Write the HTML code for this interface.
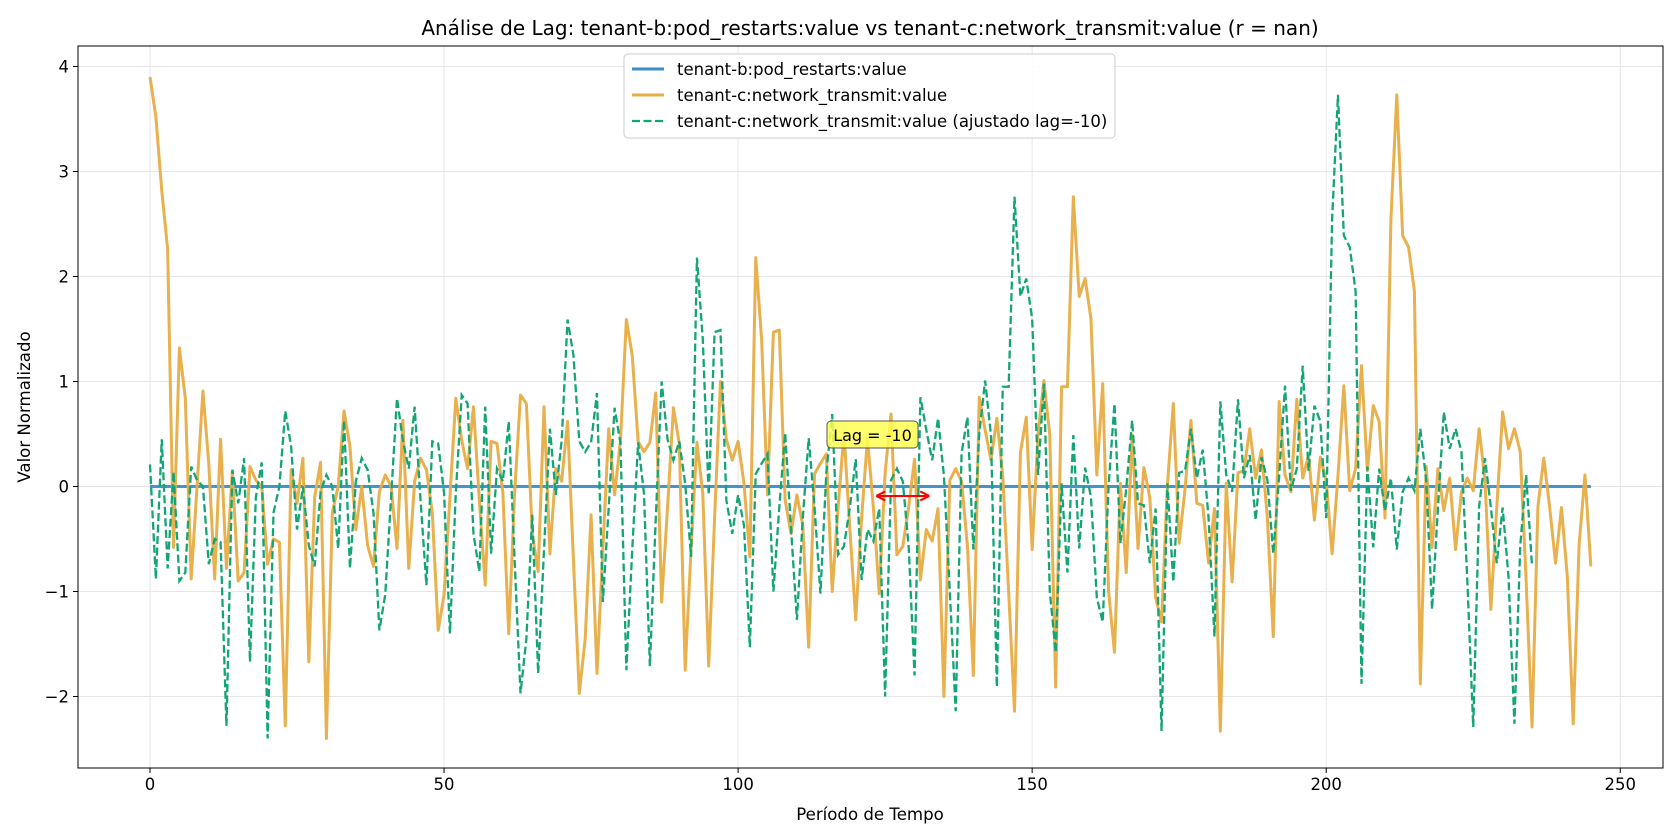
<!DOCTYPE html>
<html><head><meta charset="utf-8"><style>
html,body{margin:0;padding:0;background:#fff}
svg{display:block;font-family:"DejaVu Sans","Liberation Sans",sans-serif}
</style></head><body>
<svg id="chart" width="1680" height="840" viewBox="0 0 1680 840" xmlns="http://www.w3.org/2000/svg">
<rect x="0" y="0" width="1680" height="840" fill="#fff"/>
<text x="870" y="35" font-size="20" text-anchor="middle" fill="#000">Análise de Lag: tenant-b:pod_restarts:value vs tenant-c:network_transmit:value (r = nan)</text>
<g id="grid"></g>
<g id="series"></g>
<rect x="78" y="46" width="1585" height="722" fill="none" stroke="#000" stroke-width="1"/>
<g id="axes"></g>
<text x="870" y="820" font-size="16.6" text-anchor="middle">Período de Tempo</text>
<text transform="translate(30,407) rotate(-90)" font-size="16.6" text-anchor="middle">Valor Normalizado</text>
<g>
<rect x="624" y="54" width="491" height="84" rx="4" fill="#fff" fill-opacity="0.85" stroke="#ccc"/>
<line x1="632" y1="69" x2="664" y2="69" stroke="#3a8fc6" stroke-width="3"/>
<text x="677" y="75" font-size="16.5">tenant-b:pod_restarts:value</text>
<line x1="632" y1="95" x2="664" y2="95" stroke="#e8ac45" stroke-width="3"/>
<text x="677" y="101" font-size="16.5">tenant-c:network_transmit:value</text>
<line x1="632" y1="121" x2="664" y2="121" stroke="#13a575" stroke-width="2.3" stroke-dasharray="8,3.5"/>
<text x="677" y="127" font-size="16.5">tenant-c:network_transmit:value (ajustado lag=-10)</text>
</g>
<g id="annot"></g>
</svg>
<script>
const xTicks = [0, 50, 100, 150, 200, 250];
const yTicks = [-2, -1, 0, 1, 2, 3, 4];
const lagValue = -10;
const arrowRange = [123.5, 132.5];
const arrowY = -0.09;
const restartsValues = new Array(246).fill(0);
const transmitValues = [3.9,3.52,2.82,2.26,-0.58,1.32,0.84,-0.88,0.0,0.91,
0.21,-0.88,0.45,-0.78,0.14,-0.9,-0.82,0.19,0.06,0.0,
-0.74,-0.5,-0.53,-2.28,0.16,-0.16,0.27,-1.67,-0.1,0.23,
-2.4,-0.25,0.0,0.72,0.38,-0.41,0.0,-0.56,-0.76,-0.05,
0.11,0.0,-0.59,0.63,-0.78,0.05,0.27,0.16,-0.25,-1.37,
-1.03,-0.1,0.84,0.44,0.17,0.76,-0.13,-0.94,0.43,0.41,
-0.06,-1.4,-0.06,0.87,0.79,-0.45,-0.81,0.76,-0.64,0.17,
0.05,0.62,-0.7,-1.97,-1.45,-0.27,-1.78,-0.6,0.55,-0.08,
0.44,1.59,1.25,0.43,0.33,0.42,0.89,-1.1,-0.2,0.75,
0.41,-1.75,-0.6,0.42,-0.07,-1.71,-0.3,1.0,0.45,0.25,
0.43,0.03,-0.67,2.18,1.4,-0.08,1.47,1.49,-0.13,-0.45,
-0.08,-0.37,-1.53,0.12,0.22,0.31,-1.0,-0.2,0.51,-0.4,
-1.27,-0.3,0.46,-0.2,-1.02,0.13,0.69,-0.65,-0.57,-0.2,
0.26,-0.89,-0.41,-0.52,-0.21,-2.0,0.06,0.17,0.05,-0.57,
-1.8,0.85,0.54,0.25,0.65,0.1,-1.0,-2.14,0.32,0.66,
-0.6,0.5,1.01,0.49,-1.91,0.95,0.95,2.76,1.81,1.98,
1.6,0.11,0.98,-1.0,-1.58,0.03,-0.82,0.49,-0.59,0.18,
-0.1,-1.06,-1.29,0.01,0.79,-0.54,-0.02,0.63,-0.16,-0.18,
-0.73,-0.21,-2.33,0.03,-0.91,0.13,0.15,0.55,0.08,0.35,
-0.3,-1.43,0.81,0.11,-0.05,0.83,0.08,0.3,-0.32,0.28,
0.06,-0.64,0.1,0.96,-0.04,0.17,1.15,0.15,0.77,0.62,
-0.3,2.54,3.73,2.39,2.28,1.86,-1.88,0.19,-0.58,0.17,
-0.23,0.08,-0.6,-0.05,0.08,-0.04,0.55,0.06,-1.17,-0.2,
0.71,0.36,0.55,0.33,-0.9,-2.29,-0.19,0.27,-0.2,-0.73,
-0.2,-0.86,-2.26,-0.56,0.11,-0.76];
const adjustedValues = [0.21,-0.88,0.45,-0.78,0.14,-0.9,-0.82,0.19,0.06,0.0,
-0.74,-0.5,-0.53,-2.28,0.16,-0.16,0.27,-1.67,-0.1,0.23,
-2.4,-0.25,0.0,0.72,0.38,-0.41,0.0,-0.56,-0.76,-0.05,
0.11,0.0,-0.59,0.63,-0.78,0.05,0.27,0.16,-0.25,-1.37,
-1.03,-0.1,0.84,0.44,0.17,0.76,-0.13,-0.94,0.43,0.41,
-0.06,-1.4,-0.06,0.87,0.79,-0.45,-0.81,0.76,-0.64,0.17,
0.05,0.62,-0.7,-1.97,-1.45,-0.27,-1.78,-0.6,0.55,-0.08,
0.44,1.59,1.25,0.43,0.33,0.42,0.89,-1.1,-0.2,0.75,
0.41,-1.75,-0.6,0.42,-0.07,-1.71,-0.3,1.0,0.45,0.25,
0.43,0.03,-0.67,2.18,1.4,-0.08,1.47,1.49,-0.13,-0.45,
-0.08,-0.37,-1.53,0.12,0.22,0.31,-1.0,-0.2,0.51,-0.4,
-1.27,-0.3,0.46,-0.2,-1.02,0.13,0.69,-0.65,-0.57,-0.2,
0.26,-0.89,-0.41,-0.52,-0.21,-2.0,0.06,0.17,0.05,-0.57,
-1.8,0.85,0.54,0.25,0.65,0.1,-1.0,-2.14,0.32,0.66,
-0.6,0.5,1.01,0.49,-1.91,0.95,0.95,2.76,1.81,1.98,
1.6,0.11,0.98,-1.0,-1.58,0.03,-0.82,0.49,-0.59,0.18,
-0.1,-1.06,-1.29,0.01,0.79,-0.54,-0.02,0.63,-0.16,-0.18,
-0.73,-0.21,-2.33,0.03,-0.91,0.13,0.15,0.55,0.08,0.35,
-0.3,-1.43,0.81,0.11,-0.05,0.83,0.08,0.3,-0.32,0.28,
0.06,-0.64,0.1,0.96,-0.04,0.17,1.15,0.15,0.77,0.62,
-0.3,2.54,3.73,2.39,2.28,1.86,-1.88,0.19,-0.58,0.17,
-0.23,0.08,-0.6,-0.05,0.08,-0.04,0.55,0.06,-1.17,-0.2,
0.71,0.36,0.55,0.33,-0.9,-2.29,-0.19,0.27,-0.2,-0.73,
-0.2,-0.86,-2.26,-0.56,0.11,-0.76];

const NS = "http://www.w3.org/2000/svg";
const PL = 78, PR = 1663, PT = 46, PB = 768;
const X0 = 150, XS = 5.881;
const Y0 = 486.5, YS = 105;
function sx(v){ return X0 + v * XS; }
function sy(v){ return Y0 - v * YS; }
function mk(tag, attrs, parent){
  const e = document.createElementNS(NS, tag);
  for (const k in attrs) e.setAttribute(k, attrs[k]);
  parent.appendChild(e);
  return e;
}
const grid = document.getElementById('grid');
const axes = document.getElementById('axes');
const series = document.getElementById('series');
const annot = document.getElementById('annot');

xTicks.forEach(t => {
  const g = mk('line', {x1:sx(t), x2:sx(t), y1:PT, y2:PB, stroke:'#e6e6e6', 'stroke-width':1}, grid);
  
  
  const tk = mk('line', {x1:sx(t), x2:sx(t), y1:PB, y2:PB+5, stroke:'#000', 'stroke-width':1}, axes);
  
  
  const lb = mk('text', {x:sx(t), y:PB+22, 'font-size':16.5, 'text-anchor':'middle'}, axes);
  lb.textContent = String(t);
  
  
});
yTicks.forEach(t => {
  const g = mk('line', {x1:PL, x2:PR, y1:sy(t), y2:sy(t), stroke:'#e6e6e6', 'stroke-width':1}, grid);
  
  
  const tk = mk('line', {x1:PL-5, x2:PL, y1:sy(t), y2:sy(t), stroke:'#000', 'stroke-width':1}, axes);
  
  
  const lb = mk('text', {x:PL-9, y:sy(t)+6, 'font-size':16.5, 'text-anchor':'end'}, axes);
  lb.textContent = t < 0 ? '\u2212' + Math.abs(t) : String(t);
  
  
});

function pathFor(vals){
  return vals.map((v,i) => (i ? 'L' : 'M') + sx(i).toFixed(2) + ',' + sy(v).toFixed(2)).join('');
}
const pRest = mk('path', {d:pathFor(restartsValues), fill:'none', stroke:'#3a8fc6', 'stroke-width':3, 'stroke-opacity':0.95}, series);


const pTx = mk('path', {d:pathFor(transmitValues), fill:'none', stroke:'#e8ac45', 'stroke-width':3, 'stroke-linejoin':'round', 'stroke-opacity':0.95}, series);


const pAdj = mk('path', {d:pathFor(adjustedValues), fill:'none', stroke:'#13a575', 'stroke-width':2.3, 'stroke-dasharray':'8,3.5'}, series);



// annotation
const ax1 = sx(arrowRange[0]), ax2 = sx(arrowRange[1]), ay = sy(arrowY);
const arr = mk('g', {}, annot);


mk('line', {x1:ax1+2, x2:ax2-2, y1:ay, y2:ay, stroke:'#f00', 'stroke-width':2}, arr);
mk('path', {d:`M${ax1},${ay} l9,-4.5 M${ax1},${ay} l9,4.5 M${ax2},${ay} l-9,-4.5 M${ax2},${ay} l-9,4.5`, stroke:'#f00', 'stroke-width':2, fill:'none'}, arr);
const box = mk('g', {}, annot);


mk('rect', {x:827, y:421, width:91, height:27, rx:4, fill:'#ffff55', 'fill-opacity':0.85, stroke:'#555', 'stroke-width':1}, box);
const lt = mk('text', {x:872.5, y:441, 'font-size':16, 'text-anchor':'middle'}, box);
lt.textContent = 'Lag = ' + lagValue;
</script>
</body></html>
